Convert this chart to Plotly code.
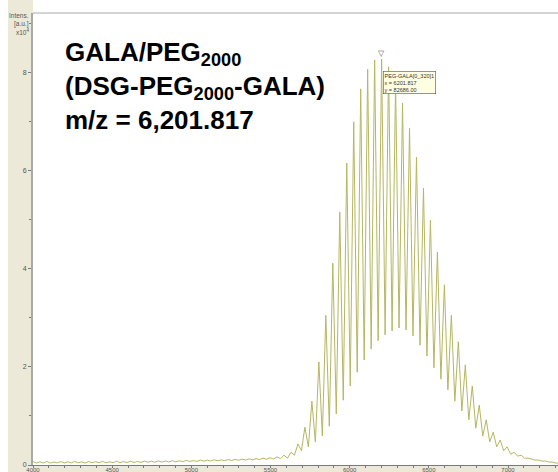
import numpy as np
import plotly.graph_objects as go

# Marked peak (cursor readout)
marked_mz = 6201.817
marked_int = 82686.00
peg_unit = 44.05  # ethylene-oxide repeat, Da

# Peak ladder index relative to the marked peak
peak_index = list(range(-50, 26))

# Apex intensities (a.u.) for each oligomer, k = -50 .. 25
peak_int = [
    700, 650, 720, 600, 700, 650, 720, 640, 700, 680,
    740, 660, 760, 700, 780, 720, 800, 760, 840, 800,
    880, 860, 940, 900, 1000, 980, 1060, 1040, 1120, 1150,
    1200, 1260, 1320, 1400, 1480, 1650, 2000,
    2600, 4300, 7700, 13000, 21000, 30500, 41100, 51500, 61500, 69900,
    76600, 80600, 82500, marked_int, 81100, 77800, 73700, 68600, 62700, 56400,
    49900, 43400, 36700, 30500, 25100, 20400, 16100, 12200, 9200, 6700,
    5100, 3700, 2600, 2000, 1400, 1000, 800, 600, 400,
]

# Trough intensities (a.u.) following each apex
valley_int = [
    420, 430, 410, 440, 420, 430, 440, 420, 450, 460,
    440, 470, 480, 500, 510, 530, 560, 560, 600, 620,
    650, 680, 720, 740, 780, 800, 850, 880, 920, 960,
    1000, 1050, 1100, 1160, 1220, 1300, 1400,
    2000, 2900, 3700, 4700, 5900, 7900, 10400, 13200, 16100, 18900,
    21400, 23600, 25300, 26500, 27300, 27900, 27500, 26300, 24400, 22200,
    19800, 17500, 15300, 13000, 11000, 9200, 7500, 5900, 4700, 3700,
    2900, 2200, 1800, 1400, 1200, 1000, 800, 600, 400,
]

x_ticks = [4000, 4500, 5000, 5500, 6000, 6500, 7000]
y_ticks = [0, 20000, 40000, 60000, 80000]
y_tick_text = ["0", "2", "4", "6", "8"]

# Build the spectrum trace: apex, trough, apex, trough ...
mz, inten = [], []
for k, p, v in zip(peak_index, peak_int, valley_int):
    centre = marked_mz + peg_unit * k
    mz += [centre, centre + peg_unit / 2]
    inten += [p, v]

W, H = 558, 472
L, R, T, B = 33, 0, 13, 7
pw, ph = W - L - R, H - T - B

def px(xp):
    return (xp - L) / pw

def py(yp):
    return (H - B - yp) / ph

beige = "#ECE9D8"
tick_font = dict(family="Liberation Sans, Arial", size=7, color="#555555")

fig = go.Figure()
fig.add_trace(go.Scatter(
    x=mz, y=inten, mode="lines",
    line=dict(color="#B6B662", width=1),
    hoverinfo="skip", showlegend=False,
))

fig.update_layout(
    width=W, height=H,
    margin=dict(l=L, r=R, t=T, b=B, autoexpand=False),
    paper_bgcolor="white", plot_bgcolor="white",
    showlegend=False,
    xaxis=dict(
        range=[4000, 4000 + pw / 0.158333], showgrid=False, zeroline=False,
        showline=True, linecolor="#7A7A7A", linewidth=1,
        tickvals=x_ticks, ticktext=[str(t) for t in x_ticks],
        ticks="outside", ticklen=2, tickcolor="#7A7A7A",
        tickfont=dict(family="Liberation Sans, Arial", size=6, color="#555555"),
        ticklabelstandoff=-3,
        minor=dict(dtick=100, tick0=4000, ticks="outside", ticklen=2, tickcolor="#7A7A7A"),
        automargin=False,
    ),
    yaxis=dict(
        range=[0, (H - B - T) / 49.1 * 1e4], showgrid=False, zeroline=False,
        showline=True, linecolor="#A8A8A8", linewidth=2,
        tickvals=y_ticks, ticktext=y_tick_text,
        ticks="outside", ticklen=3, tickcolor="#7A7A7A", tickfont=tick_font,
        minor=dict(dtick=10000, ticks="outside", ticklen=2, tickcolor="#7A7A7A"),
        automargin=False,
    ),
    shapes=[
        dict(type="rect", xref="paper", yref="paper", layer="below",
             x0=px(8), x1=0, y0=py(H), y1=py(0), fillcolor=beige, line_width=0),
        dict(type="rect", xref="paper", yref="paper", layer="below",
             x0=px(8), x1=1, y0=py(H), y1=0, fillcolor=beige, line_width=0),
        dict(type="line", xref="paper", yref="paper",
             x0=0, x1=1, y0=1, y1=1, line=dict(color="#A8A8A8", width=1)),
    ],
)

# Axis caption
for txt, yp in [("Intens.", 15), ("[a.u.]", 24), ("x10<sup>4</sup>", 32)]:
    fig.add_annotation(text=txt, xref="paper", yref="paper", x=px(31), y=py(yp),
                       xanchor="right", yanchor="middle", showarrow=False,
                       font=dict(family="Liberation Sans, Arial", size=6.5, color="#555555"))

# Compound label
fig.add_annotation(
    text="<b>GALA/PEG<sub>2000</sub><br>(DSG-PEG<sub>2000</sub>-GALA)<br>m/z = 6,201.817</b>",
    xref="paper", yref="paper", x=px(63), y=py(35),
    xanchor="left", yanchor="top", align="left", showarrow=False,
    font=dict(family="Liberation Sans, Arial", size=26, color="black"),
)

# Peak cursor marker and readout box
fig.add_annotation(x=marked_mz, y=marked_int, text="▽", showarrow=False,
                   xanchor="center", yanchor="bottom", yshift=-1,
                   font=dict(size=8, color="#666666"))
fig.add_annotation(
    x=marked_mz, y=marked_int,
    text=f"PEG-GALA[0_320]1<br>x = {marked_mz:.3f}<br>y = {marked_int:.2f}",
    showarrow=False, xanchor="left", yanchor="top", align="left",
    xshift=1, yshift=-12,
    bgcolor="#FFFFE1", bordercolor="#505050", borderwidth=0.6, borderpad=1,
    font=dict(family="Liberation Sans, Arial", size=5.5, color="#333333"),
)

fig.write_html("out.html")
